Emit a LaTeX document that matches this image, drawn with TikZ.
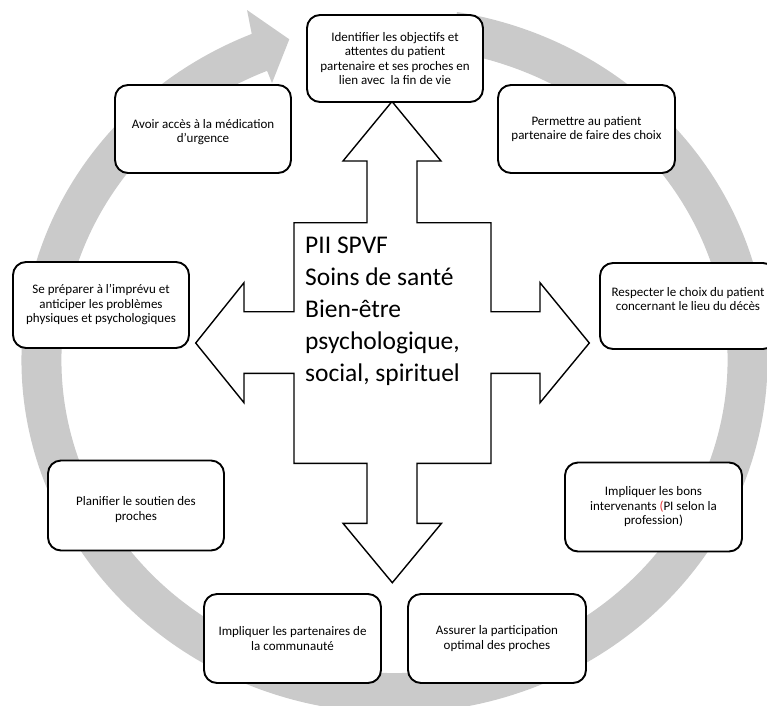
\documentclass[tikz,border=0pt]{standalone}
\usepackage{fontspec}
\setmainfont{Carlito}
\usetikzlibrary{calc}
\definecolor{ringgray}{RGB}{202,202,202}
\definecolor{parred}{RGB}{230,50,50}
\begin{document}
\begin{tikzpicture}[x=1pt,y=-1pt,
  stepbox/.style={draw=black, line width=1.9pt, rounded corners=13pt, fill=white,
    align=center, inner sep=2pt, minimum width=176pt, minimum height=88pt,
    font=\fontsize{13}{14.5}\selectfont},
  crossline/.style={draw=black, line width=1.4pt, fill=white, line join=miter}]
\useasboundingbox (0,0) rectangle (767,705);
\clip (0,0) rectangle (767,705);
% grey circular arrow
\coordinate (rc) at (394.5,360);
\coordinate (headtop) at (247,10);
\coordinate (headtip) at (289.3,39.3);
\coordinate (headbot) at (272,83);
\fill[ringgray] ($(rc)+(-80.35:373 and 353)$)
  arc[start angle=-80.35, end angle=247.5, x radius=373, y radius=353]
  -- (headtop) -- (headtip) -- (headbot)
  -- ($(rc)+(247.5:333 and 313)$)
  arc[start angle=247.5, end angle=-80.35, x radius=333, y radius=313] -- cycle;
% central four-way arrow
\path[crossline] (392,101.5) -- (441,161) -- (417,161) -- (417,222.7) -- (491,222.7)
  -- (491,311.7) -- (540,311.7) -- (540,282.7) -- (589.3,343) -- (540,402.7)
  -- (540,373.3) -- (491,373.3) -- (491,463.3) -- (417,463.3) -- (417,523.3)
  -- (441.5,523.3) -- (392.3,582.7) -- (343,523.3) -- (367,523.3) -- (367,463.3)
  -- (294,463.3) -- (294,373.3) -- (244,373.3) -- (244,402.7) -- (195.7,343)
  -- (244,282.7) -- (244,311.7) -- (294,311.7) -- (294,222.7) -- (367,222.7)
  -- (367,161) -- (343,161) -- cycle;
\node[anchor=north west, inner sep=0pt, align=left,
  font=\fontsize{25.5}{32}\selectfont] (centre) at (305,236.5)
  {PII SPVF\\Soins de santé\\Bien-être\\psychologique,\\social, spirituel};
% boxes
\node[stepbox, minimum height=87pt] (ident) at (395,58.5)
  {Identifier les objectifs et\\attentes du patient\\partenaire et ses proches en\\lien avec\ \ la fin de vie};
\node[stepbox] (avoir) at (203,129) {\mbox{}\\[1pt]Avoir accès à la médication\\d'urgence};
\node[stepbox, minimum width=177pt] (permettre) at (586.5,129) {Permettre au patient\\partenaire de faire des choix};
\node[stepbox, minimum height=86pt] (respecter) at (688,306)
  {Respecter le choix du patient\\concernant le lieu du décès\\\mbox{}};
\node[stepbox, minimum width=177pt, minimum height=89pt] (bons) at (653.5,507)
  {Impliquer les bons\\intervenants \textcolor{parred}{(}PI selon la\\profession)};
\node[stepbox, minimum width=178pt, minimum height=89pt] (assurer) at (497,638.5)
  {Assurer la participation\\optimal des proches};
\node[stepbox, minimum width=177pt, minimum height=89pt] (commun) at (292.5,638.5)
  {Impliquer les partenaires de\\la communauté};
\node[stepbox, minimum height=90pt] (planifier) at (136,505.5)
  {\mbox{}\\[3pt]Planifier le soutien des\\proches};
\node[stepbox, minimum height=86pt] (preparer) at (101,305)
  {Se préparer à l'imprévu et\\anticiper les problèmes\\physiques et psychologiques};
\end{tikzpicture}
\end{document}
